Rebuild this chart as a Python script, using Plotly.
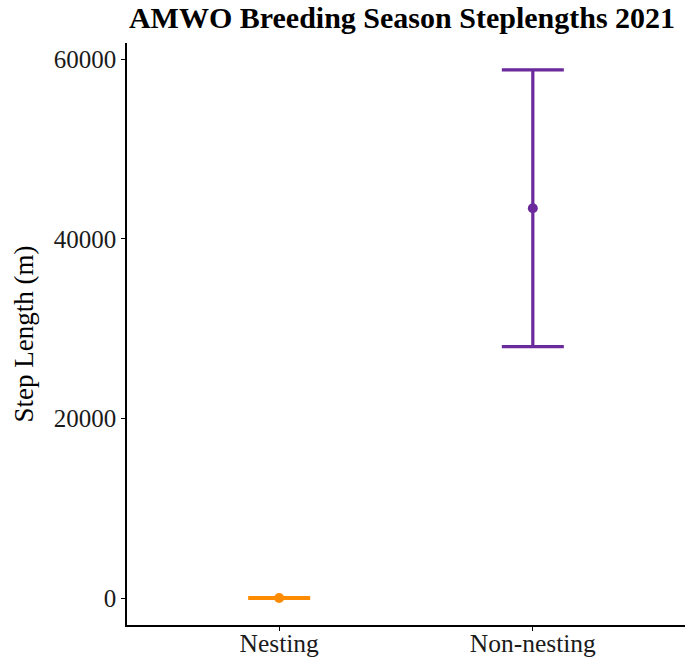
import plotly.graph_objects as go

# Mean step length and error (m) per nesting status
groups = ["Nesting", "Non-nesting"]
mean_step = [40, 43400]
err_step = [40, 15400]
colors = ["#FF8C00", "#6B2A9C"]

fig = go.Figure()
for g, m, e, c in zip(groups, mean_step, err_step, colors):
    fig.add_trace(go.Scatter(
        x=[g], y=[m], mode="markers",
        marker=dict(color=c, size=10),
        error_y=dict(type="data", array=[e], visible=True,
                     color=c, thickness=3.2, width=31),
        showlegend=False,
    ))

font = "Liberation Serif, Times New Roman, serif"
fig.update_layout(
    width=685, height=663,
    margin=dict(l=127, r=0, t=43, b=38),
    plot_bgcolor="white", paper_bgcolor="white",
    font=dict(family=font, color="black"),
    title=dict(text="<b>AMWO Breeding Season Steplengths 2021</b>",
               font=dict(size=30, family=font, color="black"),
               xref="container", x=402/685, xanchor="center",
               yref="container", y=1-17/663, yanchor="middle"),
)
fig.update_xaxes(
    type="category", categoryorder="array", categoryarray=groups,
    range=[-0.6, 1.6], showgrid=False, zeroline=False, automargin=False,
    showline=True, linecolor="black", linewidth=1.5,
    ticks="outside", ticklen=4, tickcolor="black", tickwidth=1.2,
    ticklabelstandoff=-9,
    tickfont=dict(size=25.5, family=font, color="#1a1a1a"),
)
fig.update_yaxes(
    range=[-2972, 61800], tickvals=[0, 20000, 40000, 60000],
    ticktext=["0", "20000", "40000", "60000"],
    showgrid=False, zeroline=False, automargin=False,
    showline=True, linecolor="black", linewidth=1.5,
    ticks="outside", ticklen=4, tickcolor="black", tickwidth=1.2,
    tickfont=dict(size=25, family=font, color="#1a1a1a"),
    title=dict(text="Step Length (m)", font=dict(size=27, family=font, color="black"),
               standoff=12),
)
fig.write_html("out.html")
